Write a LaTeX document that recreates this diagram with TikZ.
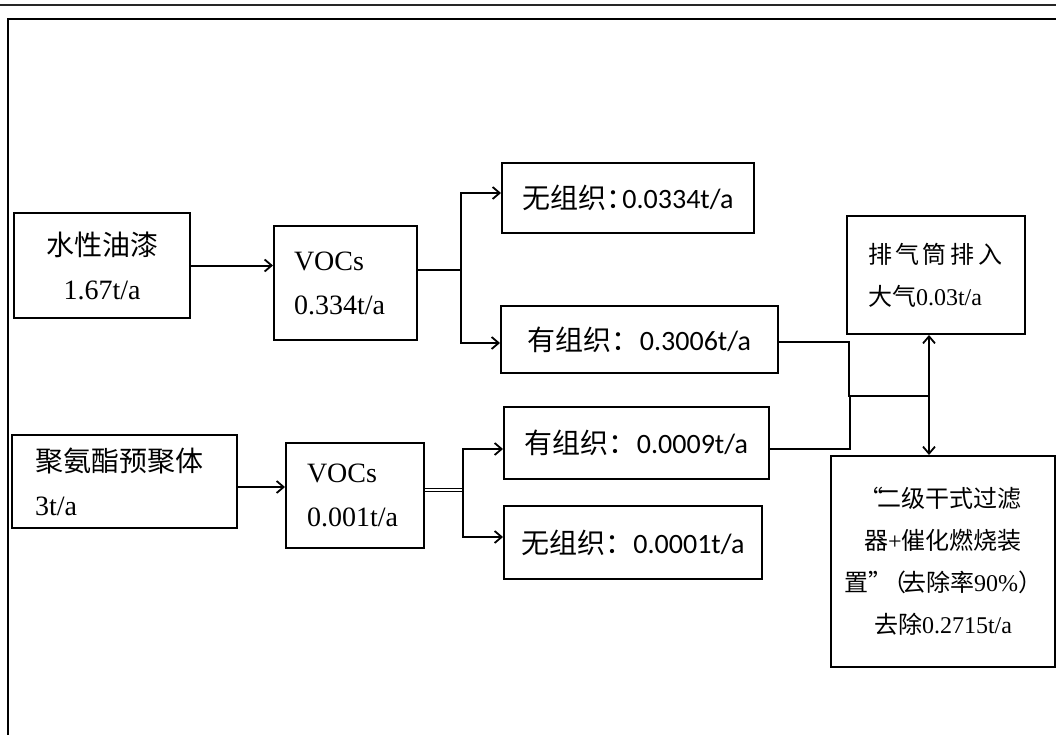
\documentclass[tikz,border=0pt]{standalone}
\usepackage{fontspec}
\setmainfont{Liberation Serif}
\newfontfamily\cjk{Noto Sans CJK SC}
\newfontfamily\calib{Carlito}
\usetikzlibrary{arrows.meta}

\begin{document}
\begin{tikzpicture}[x=1pt, y=-1pt,
  every node/.style={font=\fontsize{28}{44}\selectfont},
  box/.style={rectangle, draw, line width=2pt, inner sep=0pt, align=center},
  lbox/.style={box, align=left},
  small/.style={font=\fontsize{24}{42}\selectfont},
  conn/.style={line width=2pt},
  arr/.style={conn, -{Straight Barb[length=7pt, width=12pt, line width=1.8pt]}}
]

\useasboundingbox (0,0) rectangle (1056,735);
\draw[line width=2.5pt, black!85] (0,5) -- (1056,5);
\draw[line width=2.5pt] (8,735) -- (8,19) -- (1056,19);

\node[box, minimum width=176pt, minimum height=105pt]                 (P)  at (102,265.5)   {{\cjk 水性油漆}\\1.67t/a};
\node[lbox, text width=103pt, inner xsep=20pt, minimum height=114pt]  (V1) at (345.5,283)   {VOCs\\0.334t/a};
\node[box, minimum width=252pt, minimum height=70pt]                  (U1) at (628,198)     {{\cjk 无组织：\kern-12pt}{\calib 0.0334t/a}};
\node[box, minimum width=277pt, minimum height=67pt]                  (O1) at (639.5,339.5) {{\cjk 有组织：}{\calib 0.3006t/a}};
\node[lbox, text width=179pt, inner xsep=23pt, minimum height=93pt]   (Q)  at (124.5,481.5) {{\cjk 聚氨酯预聚体}\\3t/a};
\node[lbox, text width=96pt, inner xsep=21pt, minimum height=105pt]   (V2) at (355,495.5)   {VOCs\\0.001t/a};
\node[box, minimum width=265pt, minimum height=72pt]                  (O2) at (636.5,443)   {{\cjk 有组织：}{\calib 0.0009t/a}};
\node[box, minimum width=258pt, minimum height=73pt]                  (U2) at (633,542.5)   {{\cjk 无组织：}{\calib 0.0001t/a}};
\node[lbox, small, text width=136pt, inner xsep=21pt, minimum height=118pt] (E) at (936,275)
  {{\cjk 排\hspace{3.5pt}气\hspace{3.5pt}筒\hspace{3.5pt}排\hspace{3.5pt}入}\\{\cjk 大气}0.03t/a};
\node[box, small, minimum width=224pt, minimum height=211pt]          (F)  at (943,561.5)
  {{\cjk \kern-6pt“\kern-6pt二级干式过滤}\\{\cjk 器}+{\cjk 催化燃烧装}\\{\cjk 置”\kern-10pt（\kern-4pt去除率}90\%{\cjk ）}\\{\cjk 去除}0.2715t/a};

% upper line
\draw[arr] (P.east) -- (P.east -| V1.west);
\coordinate (s1) at (461,270);
\draw[conn] (V1.east |- s1) -- (s1);
\draw[arr] (s1) |- ([yshift=5pt]U1.west);
\draw[arr] (s1) |- ([yshift=-3.5pt]O1.west);

% lower line
\draw[arr] ([yshift=-5.5pt]Q.east) -- ([yshift=-5.5pt]Q.east -| V2.west);
\coordinate (s2) at (463,490);
\draw[line width=1.6pt, double, double distance=1.4pt] (V2.east |- s2) -- (s2);
\draw[arr] (s2) |- ([yshift=-6pt]O2.west);
\draw[arr] (s2) |- ([yshift=5.5pt]U2.west);

% to stack and treatment
\coordinate (m) at (929,396);
\draw[conn] ([yshift=-2.5pt]O1.east) -- ++(70,0) |- (m);
\draw[conn] ([yshift=-6pt]O2.east) -- ++(80,0) |- (m);
\draw[arr] (m) -- (m |- E.south);
\draw[arr] (m) -- (m |- F.north);

\end{tikzpicture}
\end{document}
